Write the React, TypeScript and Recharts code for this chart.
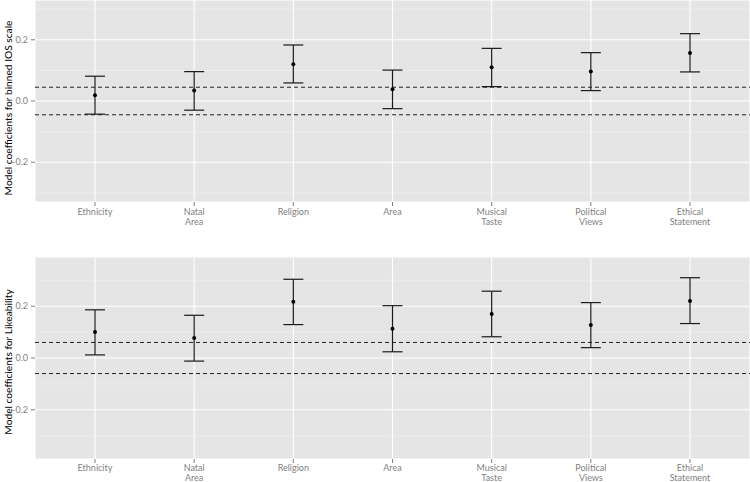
import { ComposedChart, Scatter, ErrorBar, XAxis, YAxis, CartesianGrid, ReferenceLine } from "recharts";

const categories = ["Ethnicity", "Natal\nArea", "Religion", "Area", "Musical\nTaste", "Political\nViews", "Ethical\nStatement"];

// binned IOS scale
const iosEstimate = [0.019, 0.034, 0.12, 0.038, 0.11, 0.096, 0.157];
const iosLower = [-0.043, -0.03, 0.059, -0.025, 0.047, 0.034, 0.095];
const iosUpper = [0.081, 0.096, 0.183, 0.101, 0.172, 0.158, 0.22];
const iosThreshold = 0.045;

// likeability
const likeEstimate = [0.1, 0.077, 0.217, 0.113, 0.17, 0.127, 0.22];
const likeLower = [0.012, -0.012, 0.129, 0.024, 0.082, 0.04, 0.133];
const likeUpper = [0.186, 0.165, 0.304, 0.202, 0.258, 0.214, 0.31];
const likeThreshold = 0.06;

const majorTicks = [-0.2, 0, 0.2];
const minorTicks = [-0.3, -0.1, 0.1, 0.3];

const FONT = "Lato, 'Open Sans', sans-serif";
const GREY = "#7f7f7f";

function buildRows(est: number[], lo: number[], hi: number[]) {
  return categories.map((c, i) => ({
    cat: c,
    est: est[i],
    err: [est[i] - lo[i], hi[i] - est[i]],
  }));
}

function CatTick(props: any) {
  const { x, y, payload } = props;
  const lines = String(payload.value).split("\n");
  return (
    <text x={x} y={y} textAnchor="middle" fill={GREY} fontSize={9} fontFamily={FONT}>
      {lines.map((l, i) => (
        <tspan key={i} x={x} dy={i === 0 ? "0.71em" : 9.4}>
          {l}
        </tspan>
      ))}
    </text>
  );
}

function AxisTitle(props: any) {
  const { viewBox, text, shift } = props;
  const cy = viewBox.y + viewBox.height / 2 + shift;
  return (
    <text
      x={8}
      y={cy}
      transform={`rotate(-90, 8, ${cy})`}
      textAnchor="middle"
      dominantBaseline="central"
      fontSize={10.2}
      fill="#000"
      fontFamily={FONT}
    >
      {text}
    </text>
  );
}

function Dot(props: any) {
  return <circle cx={props.cx} cy={props.cy} r={2} fill="#000" />;
}

interface PanelProps {
  rows: { cat: string; est: number; err: number[] }[];
  threshold: number;
  limit: number;
  title: string;
  titleShift: number;
  height: number;
  top: number;
  xAxisHeight: number;
  labelGap: number;
}

function Panel({ rows, threshold, limit, title, titleShift, height, top, xAxisHeight, labelGap }: PanelProps) {
  return (
    <ComposedChart width={750} height={height} data={rows} margin={{ top, right: 0, bottom: 0, left: 0 }}>
      <CartesianGrid fill="#e5e5e5" stroke="#ffffff" strokeWidth={1.1} />
      {minorTicks.map((v) => (
        <ReferenceLine key={v} y={v} stroke="#f2f2f2" strokeWidth={0.6} />
      ))}
      <XAxis
        dataKey="cat"
        type="category"
        padding={{ left: 60, right: 60 }}
        height={xAxisHeight}
        axisLine={false}
        tickLine={{ stroke: GREY }}
        tickSize={4}
        tickMargin={labelGap}
        interval={0}
        tick={<CatTick />}
      />
      <YAxis
        type="number"
        domain={[-limit, limit]}
        ticks={majorTicks}
        allowDataOverflow
        width={35}
        axisLine={false}
        tickLine={{ stroke: GREY }}
        tickSize={4}
        tickMargin={3}
        tickFormatter={(v: number) => v.toFixed(1)}
        tick={{ fill: GREY, fontSize: 9, fontFamily: FONT }}
        label={<AxisTitle text={title} shift={titleShift} />}
      />
      <ReferenceLine y={threshold} stroke="#222" strokeDasharray="4 3" strokeWidth={1} />
      <ReferenceLine y={-threshold} stroke="#222" strokeDasharray="4 3" strokeWidth={1} />
      <Scatter dataKey="est" shape={<Dot />} isAnimationActive={false}>
        <ErrorBar dataKey="err" direction="y" width={10} stroke="#1a1a1a" strokeWidth={1.2} isAnimationActive={false} />
      </Scatter>
    </ComposedChart>
  );
}

export default function App() {
  const iosRows = buildRows(iosEstimate, iosLower, iosUpper);
  const likeRows = buildRows(likeEstimate, likeLower, likeUpper);
  return (
    <div style={{ position: "absolute", left: 0, top: 0, width: 750, height: 482, background: "#fff", overflow: "hidden" }}>
      <div style={{ position: "absolute", left: 0, top: 0 }}>
        <Panel
          rows={iosRows}
          threshold={iosThreshold}
          limit={0.33}
          title="Model coefficients for binned IOS scale"
          titleShift={7}
          height={240}
          top={0}
          xAxisHeight={38}
          labelGap={3}
        />
      </div>
      <div style={{ position: "absolute", left: 0, top: 240 }}>
        <Panel
          rows={likeRows}
          threshold={likeThreshold}
          limit={0.39}
          title="Model coefficients for Likeability"
          titleShift={4}
          height={242}
          top={17}
          xAxisHeight={23}
          labelGap={2}
        />
      </div>
    </div>
  );
}
